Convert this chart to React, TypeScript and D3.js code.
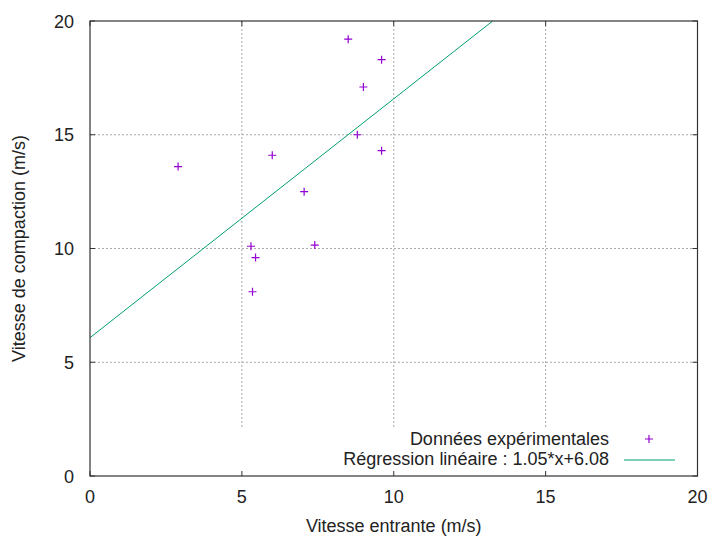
import React from "react";
import * as d3 from "d3";

const xValues = [2.9, 6.0, 5.3, 5.45, 5.35, 7.05, 7.4, 8.5, 9.6, 9.0, 8.8, 9.6];
const yValues = [13.6, 14.1, 10.1, 9.6, 8.1, 12.5, 10.15, 19.2, 18.3, 17.1, 15.0, 14.3];
const xTicks = [0, 5, 10, 15, 20];
const yTicks = [0, 5, 10, 15, 20];
const slope = 1.05;
const intercept = 6.08;
const legendLabels = ["Données expérimentales", "Régression linéaire : 1.05*x+6.08"];

const W = 708;
const H = 538;
const L = 90, R = 697.5, T = 21, B = 476;
const font = "'Liberation Sans', Arial, sans-serif";
const purple = "#9400d3";
const teal = "#009e73";
const FS = 18;

export default function App() {
  const x = d3.scaleLinear().domain([0, 20]).range([L, R]);
  const y = d3.scaleLinear().domain([0, 20]).range([B, T]);
  const xEnd = (20 - intercept) / slope;
  const line = d3.line<[number, number]>().x((d) => x(d[0])).y((d) => y(d[1]));
  const regPts: [number, number][] = [[0, intercept], [xEnd, slope * xEnd + intercept]];
  const cross = (cx: number, cy: number, k: string | number) => (
    <path key={k} d={`M${cx - 4},${cy}H${cx + 4}M${cx},${cy - 4}V${cy + 4}`} stroke={purple} strokeWidth={1.2} fill="none" />
  );
  return (
    <svg width={W} height={H} style={{ position: "absolute", left: 0, top: 0, background: "#fff" }} fontFamily={font}>
      <rect x={0} y={0} width={W} height={H} fill="#fff" />
      {/* grid */}
      {xTicks.slice(1, -1).map((t) => (
        <line key={"gx" + t} x1={x(t)} x2={x(t)} y1={T} y2={B} stroke="#a8a8a8" strokeDasharray="2 2" />
      ))}
      {yTicks.slice(1, -1).map((t) => (
        <line key={"gy" + t} x1={L} x2={R} y1={y(t)} y2={y(t)} stroke="#a8a8a8" strokeDasharray="2 2" />
      ))}
      {/* opaque key box */}
      <rect x={200} y={429} width={R - 201} height={B - 430} fill="#fff" />
      {/* regression */}
      <path d={line(regPts) || ""} stroke={teal} strokeWidth={1} fill="none" />
      {/* points */}
      {xValues.map((v, i) => cross(x(v), y(yValues[i]), i))}
      {/* border */}
      <rect x={L} y={T} width={R - L} height={B - T} fill="none" stroke="#333" strokeWidth={1.2} />
      {/* ticks */}
      {xTicks.map((t) => (
        <g key={"tx" + t}>
          <line x1={x(t)} x2={x(t)} y1={B} y2={B - 5} stroke="#333" />
          <line x1={x(t)} x2={x(t)} y1={T} y2={T + 5} stroke="#333" />
          <text x={x(t)} y={503} fontSize={FS} textAnchor="middle" fill="#222">{t}</text>
        </g>
      ))}
      {yTicks.map((t) => (
        <g key={"ty" + t}>
          <line x1={L} x2={L + 5} y1={y(t)} y2={y(t)} stroke="#333" />
          <line x1={R} x2={R - 5} y1={y(t)} y2={y(t)} stroke="#333" />
          <text x={74} y={y(t) + 6.5} fontSize={FS} textAnchor="end" fill="#222">{t}</text>
        </g>
      ))}
      {/* axis labels */}
      <text x={(L + R) / 2} y={532} fontSize={FS} textAnchor="middle" fill="#222">Vitesse entrante (m/s)</text>
      <text transform={`translate(25,${(T + B) / 2}) rotate(-90)`} fontSize={FS} textAnchor="middle" fill="#222">Vitesse de compaction (m/s)</text>
      {/* legend */}
      <text x={609} y={445} fontSize={FS} textAnchor="end" fill="#222">{legendLabels[0]}</text>
      {cross(649, 439, "leg")}
      <text x={609} y={465} fontSize={FS} textAnchor="end" fill="#222">{legendLabels[1]}</text>
      <line x1={624} x2={675} y1={460} y2={460} stroke={teal} strokeWidth={1} />
    </svg>
  );
}
